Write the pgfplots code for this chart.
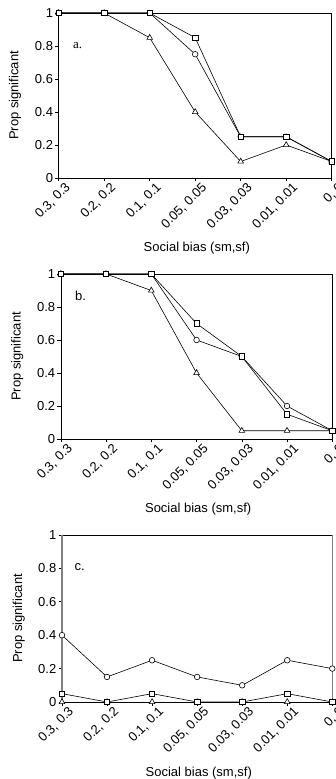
\documentclass[border=0pt]{standalone}
\usepackage{pgfplots}
\pgfplotsset{compat=1.18}
\usepackage{fontspec}
\setmainfont{Liberation Sans}
\newfontfamily\seriffont{Liberation Serif}

\pgfplotsset{
  panel/.style={
    scale only axis, width=273pt, height=165pt,
    xmin=0, xmax=6, ymin=0, ymax=1,
    xtick={0,1,2,3,4,5,6},
    xticklabels={{0.3, 0.3},{0.2, 0.2},{0.1, 0.1},{0.05, 0.05},{0.03, 0.03},{0.01, 0.01},{0, 0}},
    ytick={0,0.2,0.4,0.6,0.8,1},
    yticklabels={0,0.2,0.4,0.6,0.8,1},
    tick align=outside, xtick pos=left, ytick pos=left,
    major tick length=3.5pt,
    clip=false,
    axis line style={black, line width=0.6pt},
    every tick/.style={black, line width=0.6pt},
    tick label style={font=\fontsize{13}{15}\selectfont},
    label style={font=\fontsize{13}{15}\selectfont},
    y tick label style={inner sep=2pt},
    x tick label style={rotate=45, anchor=north east, inner sep=1pt, xshift=5pt, yshift=-3pt},
    xlabel={Social bias (sm,sf)},
    ylabel={Prop significant},
    xlabel style={at={(axis description cs:0.506,-0.424)}, anchor=center},
    ylabel style={at={(axis description cs:-0.16,0.5)}, anchor=center},
    every axis plot/.append style={black, line width=0.6pt, mark options={fill=white, solid, line width=0.6pt}},
  },
  sq/.style={mark=square*, mark size=2.7pt},
  ci/.style={mark=*, mark size=2.8pt},
  tr/.style={mark=triangle*, mark size=3.3pt},
}

\begin{document}
\begin{tikzpicture}
\useasboundingbox (0pt,0pt) rectangle (335pt,779pt);
% panel a
\begin{axis}[panel, at={(58.7pt,601pt)}, anchor=south west]
\addplot[tr] coordinates {(0,1) (1,1) (2,0.85) (3,0.4) (4,0.1) (5,0.2) (6,0.1)};
\addplot[ci] coordinates {(0,1) (1,1) (2,1) (3,0.75) (4,0.25) (5,0.25) (6,0.1)};
\addplot[sq] coordinates {(0,1) (1,1) (2,1) (3,0.85) (4,0.25) (5,0.25) (6,0.1)};
\node[anchor=west, font=\seriffont\fontsize{13}{15}\selectfont] at (axis cs:0.24,0.8) {a.};
\end{axis}
% panel b
\begin{axis}[panel, at={(60.8pt,340pt)}, anchor=south west, width=271.5pt]
\addplot[tr] coordinates {(0,1) (1,1) (2,0.9) (3,0.4) (4,0.05) (5,0.05) (6,0.05)};
\addplot[ci] coordinates {(0,1) (1,1) (2,1) (3,0.6) (4,0.5) (5,0.2) (6,0.05)};
\addplot[sq] coordinates {(0,1) (1,1) (2,1) (3,0.7) (4,0.5) (5,0.15) (6,0.05)};
\node[anchor=west, font=\fontsize{13}{15}\selectfont] at (axis cs:0.24,0.87) {b.};
\end{axis}
% panel c
\begin{axis}[panel, at={(62pt,77pt)}, anchor=south west, width=270.3pt, height=167pt,
  separate axis lines,
  x axis line style={black, line width=0.6pt},
  y axis line style={gray, line width=1.3pt}]
\addplot[tr] coordinates {(0,0) (1,0) (2,0) (3,0) (4,0) (5,0) (6,0)};
\addplot[sq] coordinates {(0,0.05) (1,0) (2,0.05) (3,0) (4,0) (5,0.05) (6,0)};
\addplot[ci] coordinates {(0,0.4) (1,0.15) (2,0.25) (3,0.15) (4,0.1) (5,0.25) (6,0.2)};
\node[anchor=west, font=\fontsize{13}{15}\selectfont] at (axis cs:0.2,0.81) {c.};
\end{axis}
\end{tikzpicture}
\end{document}
